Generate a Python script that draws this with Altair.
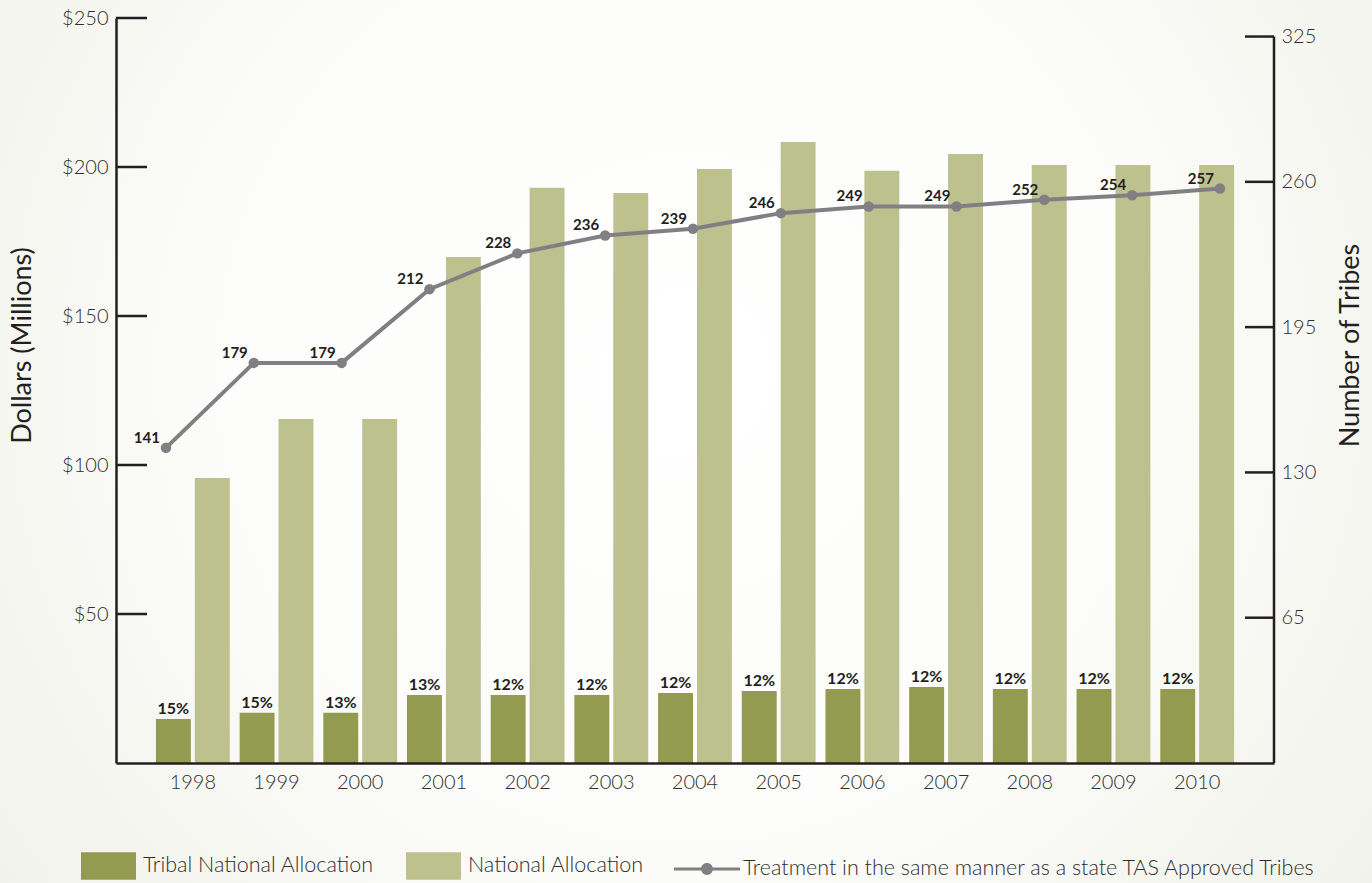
import altair as alt
import pandas as pd

# ---------------- data ----------------
years = [1998, 1999, 2000, 2001, 2002, 2003, 2004, 2005, 2006, 2007, 2008, 2009, 2010]
tribal_alloc = [14.8, 16.9, 16.9, 22.8, 22.8, 22.8, 23.5, 24.2, 24.8, 25.5, 24.8, 24.8, 24.8]
national_alloc = [95.6, 115.4, 115.4, 169.8, 193.0, 191.3, 199.3, 208.4, 198.7, 204.4, 200.7, 200.7, 200.7]
tribal_share = ["15%", "15%", "13%", "13%", "12%", "12%", "12%", "12%", "12%", "12%", "12%", "12%", "12%"]
tas_tribes = [141, 179, 179, 212, 228, 236, 239, 246, 249, 249, 252, 254, 257]
left_ticks = [50, 100, 150, 200, 250]
right_ticks = [65, 130, 195, 260, 325]
right_span = [0, 325]

S_TRIBAL = "Tribal National Allocation"
S_NAT = "National Allocation"
S_LINE = "Treatment in the same manner as a state TAS Approved Tribes"

# ---------------- style ----------------
W, H = 1158, 745
FONT = "Lato"
TXT = "#231f20"
LBL = "#2e2e2e"
C_TRIBAL = "#939b50"
C_NAT = "#bcc18e"
C_LINE = "#808084"

bars_df = pd.DataFrame({
    "year": years * 2,
    "series": [S_TRIBAL] * len(years) + [S_NAT] * len(years),
    "value": tribal_alloc + national_alloc,
})
pct_df = pd.DataFrame({"year": years, "series": [S_TRIBAL] * len(years),
                       "value": tribal_alloc, "label": tribal_share})
line_df = pd.DataFrame({"year": years, "tribes": tas_tribes, "series": [S_LINE] * len(years)})
lt_df = pd.DataFrame({"value": left_ticks})
rt_df = pd.DataFrame({"tribes": right_ticks})
rspan_df = pd.DataFrame({"tribes": [right_span[0]], "tribes2": [right_span[1]]})

# ---------------- background ----------------
bg = alt.Chart(pd.DataFrame({"a": [0]})).mark_rect(
    fill={
        "gradient": "radial",
        "x1": 0.5, "y1": 0.45, "r1": 0.0,
        "x2": 0.5, "y2": 0.45, "r2": 0.75,
        "stops": [
            {"offset": 0.0, "color": "#ffffff"},
            {"offset": 0.45, "color": "#fcfcfa"},
            {"offset": 1.0, "color": "#eceee3"},
        ],
    },
    clip=False,
).encode(x=alt.value(-116), x2=alt.value(W + 98), y=alt.value(-18), y2=alt.value(H + 120))

# ---------------- dollars (left) ----------------
x_band = alt.X(
    "year:O",
    scale=alt.Scale(domain=years, paddingInner=0.118, paddingOuter=0.477),
    axis=alt.Axis(title=None, labelAngle=0, ticks=False, labelPadding=9,
                  labelFont=FONT, labelFontSize=20, labelFontWeight=300, labelColor=LBL,
                  domainColor=TXT, domainWidth=2.5, zindex=1),
)
x_off = alt.XOffset("series:N", sort=[S_TRIBAL, S_NAT],
                    scale=alt.Scale(domain=[S_TRIBAL, S_NAT], paddingInner=0.1026, paddingOuter=0))
y_left_axis = alt.Axis(orient="left", values=left_ticks, labelExpr="'$' + datum.value", ticks=False,
                       labelPadding=8, labelFont=FONT, labelFontSize=20, labelFontWeight=300,
                       labelColor=LBL, domainColor=TXT, domainWidth=2.5, zindex=1,
                       title="Dollars (Millions)", titleFont=FONT, titleFontSize=27,
                       titleFontWeight="normal", titleColor=TXT, titleX=-94, titleY=327,
                       titleBaseline="middle", titleAngle=270)
y_left = alt.Y("value:Q", scale=alt.Scale(domain=[0, 250], nice=False), axis=y_left_axis)

bars = alt.Chart(bars_df).mark_bar(strokeWidth=0).encode(
    x=x_band,
    xOffset=x_off,
    y=y_left,
    fill=alt.Fill("series:N", scale=alt.Scale(domain=[S_TRIBAL, S_NAT], range=[C_TRIBAL, C_NAT]),
                  legend=alt.Legend(orient="none", legendX=-35, legendY=820, direction="horizontal",
                                    title=None, symbolType="M-1,-0.5H1V0.5H-1Z", symbolSize=3025,
                                    symbolStrokeWidth=0, labelFont=FONT, labelFontSize=21.5,
                                    labelFontWeight=300,
                                    labelColor=LBL, labelOffset=7, columnPadding=32, padding=0,
                                    labelLimit=400)),
)

pct = alt.Chart(pct_df).mark_text(baseline="bottom", dy=-2, font=FONT, fontSize=16,
                                  fontWeight="bold", color=TXT).encode(
    x=x_band, xOffset=x_off, y=y_left, text="label:N",
)

lticks = alt.Chart(lt_df).mark_rule(color=TXT, strokeWidth=2.5).encode(
    y=y_left, x=alt.value(0), x2=alt.value(31),
)

left_group = alt.layer(bars, pct, lticks)

# ---------------- tribes (right) ----------------
x_lin = alt.X("year:Q", scale=alt.Scale(domain=[1997.431, 2010.615], nice=False, zero=False), axis=None)
y_right_axis = alt.Axis(orient="right", values=right_ticks, ticks=False, domain=False,
                        labelPadding=7, labelFont=FONT, labelFontSize=20, labelFontWeight=300,
                        labelColor=LBL, zindex=1,
                        title="Number of Tribes", titleFont=FONT, titleFontSize=27,
                        titleFontWeight="normal", titleColor=TXT, titleX=76, titleY=327,
                        titleBaseline="middle", titleAngle=270)
y_right = alt.Y("tribes:Q", scale=alt.Scale(domain=[0, 333.3], nice=False), axis=y_right_axis)

line = alt.Chart(line_df).mark_line(strokeWidth=4).encode(
    x=x_lin,
    y=y_right,
    stroke=alt.Stroke("series:N", scale=alt.Scale(domain=[S_LINE], range=[C_LINE]),
                      legend=alt.Legend(orient="none", legendX=558, legendY=818, title=None,
                                        symbolType=("M-1,-0.045H-0.17V0.045H-1Z"
                                                    "M0.17,-0.045H1V0.045H0.17Z"
                                                    "M0.18,0A0.18,0.18,0,1,1,-0.18,0A0.18,0.18,0,1,1,0.18,0Z"),
                                        symbolSize=4356, symbolStrokeWidth=0,
                                        symbolFillColor=C_LINE, symbolStrokeColor=C_LINE,
                                        labelFont=FONT, labelFontSize=21.5, labelFontWeight=300,
                                        labelColor=LBL,
                                        labelOffset=3, padding=0, labelLimit=700)),
)

pts = alt.Chart(line_df).mark_circle(size=110, color=C_LINE, opacity=1).encode(x=x_lin, y=y_right)

tlabels = alt.Chart(line_df).mark_text(align="right", baseline="alphabetic", dx=-6, dy=-5,
                                       font=FONT, fontSize=15, fontWeight="bold", color=TXT).encode(
    x=x_lin, y=y_right, text="tribes:Q",
)

rdomain = alt.Chart(rspan_df).mark_rule(color=TXT, strokeWidth=2.5).encode(
    y=y_right, y2="tribes2:Q", x=alt.value(W),
)
rticks = alt.Chart(rt_df).mark_rule(color=TXT, strokeWidth=2.5).encode(
    y=y_right, x=alt.value(W - 29), x2=alt.value(W),
)

right_group = alt.layer(line, pts, tlabels, rdomain, rticks)

chart = alt.layer(bg, left_group, right_group).resolve_scale(
    x="independent", y="independent"
).properties(
    width=W, height=H,
    autosize=alt.AutoSizeParams(type="none"),
    padding={"left": 116, "top": 18, "right": 98, "bottom": 120},
    background="#f0f1ea",
).configure_view(strokeWidth=0).configure_axis(grid=False)

chart.save("out.html", embed_options={"renderer": "svg", "actions": False})
